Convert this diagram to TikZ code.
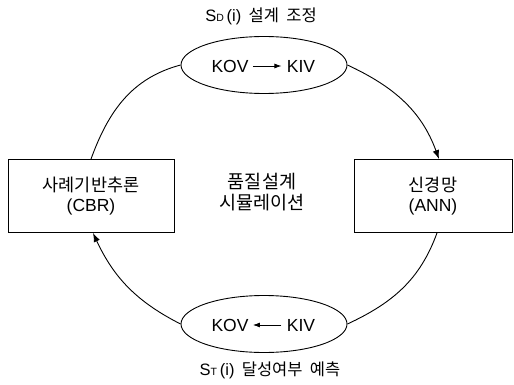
\documentclass[tikz,border=0pt]{standalone}
\usepackage{fontspec}
\setmainfont{Liberation Sans}
\newfontfamily\kr{Noto Sans CJK KR}
\usetikzlibrary{arrows.meta,shapes.geometric}
\begin{document}
\begin{tikzpicture}[x=1pt,y=-1pt, line width=0.9pt,
  ell/.style={draw, ellipse, minimum width=166pt, minimum height=57pt, inner sep=0pt},
  boxnode/.style={draw, rectangle, inner sep=0pt, align=center, minimum height=73pt,
    font=\fontsize{17.5}{20}\selectfont},
  txt/.style={inner sep=0pt, font=\fontsize{17.5}{20}\selectfont},
  lbl/.style={inner sep=0pt, font=\fontsize{16.5}{19}\selectfont},
  arr/.style={-{Latex[length=9pt,width=6.5pt]}},
  inarr/.style={-{Latex[length=7pt,width=5pt]}, line width=0.8pt}]
\useasboundingbox (0,0) rectangle (514,385);
% ellipses
\node[ell] (top) at (264,65) {};
\node[ell] (bot) at (264,324) {};
% boxes
\node[boxnode, minimum width=166pt] (cbr) at (91,196) {{\kr 사례기반추론}\\(CBR)};
\node[boxnode, minimum width=158pt] (ann) at (433,196) {{\kr 신경망}\\(ANN)};
% centre text
\node[inner sep=0pt, align=center, font=\fontsize{18.5}{21}\selectfont] (sim) at (262,192) {{\kr 품질설계}\\{\kr 시뮬레이션}};
% labels
\node[lbl] (ltop) at (261,16) {S{\fontsize{10.5}{10}\selectfont D}\,(i)\, {\kr 설계\ \ 조정}};
\node[lbl] (lbot) at (270,370) {S{\fontsize{10.5}{10}\selectfont T}\,(i)\, {\kr 달성여부\ \ 예측}};
% inner texts
\node[txt] (kov1) at (230,66) {KOV};
\node[txt] (kiv1) at (301,66) {KIV};
\node[txt] (kov2) at (230,325) {KOV};
\node[txt] (kiv2) at (301,325) {KIV};
\draw[inarr] ([xshift=4pt]kov1.east) -- ([xshift=-5pt]kiv1.west);
\draw[inarr] ([xshift=-5pt]kiv2.west) -- ([xshift=4pt]kov2.east);
% connectors
\draw (top.west) to[out=195,in=70] (cbr.north);
\draw[arr] (top.east) to[out=-25,in=110] ([xshift=6pt]ann.north);
\draw ([xshift=4pt]ann.south) to[out=-110,in=25] (bot.east);
\draw[arr] (bot.west) to[out=153,in=-65] ([xshift=2pt]cbr.south);
\end{tikzpicture}
\end{document}
